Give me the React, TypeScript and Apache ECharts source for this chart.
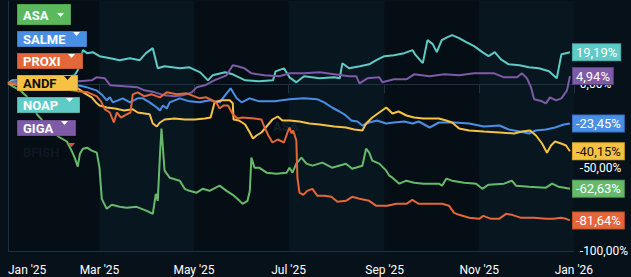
import React, { useEffect, useRef } from 'react';
import * as echarts from 'echarts';

const DAY = 86400000;
const T0 = Date.UTC(2025, 0, 1);

const MONTHS = ['Jan', 'Feb', 'Mar', 'Apr', 'May', 'Jun', 'Jul', 'Aug', 'Sep', 'Oct', 'Nov', 'Dec'];
const X_TICKS = ['2025-01-01', '2025-03-01', '2025-05-01', '2025-07-01', '2025-09-01', '2025-11-01', '2026-01-01'];
const Y_MIN = -100;
const Y_MAX = 50;
const Y_STEP = 50;

// [day offset from 2025-01-01, % change]
const ASA: [number, number][] = [
  [0, 0.6], [3.2, -1.2], [7.7, -3.6], [12, -7.2], [16, -13.3], [18.7, -18], [24, -23.5], [29, -28.9],
  [33.5, -31.9], [38, -34.3], [41, -39.8], [43, -44], [45, -49.4], [46.4, -41.6], [48.3, -38.6], [51, -38],
  [54, -39.8], [57.3, -41], [59, -50], [60.5, -68.7], [63.7, -74.7], [67, -72.3], [72, -73.5], [76.6, -74.1],
  [83, -73.5], [89.5, -75.9], [93.4, -77.7], [95.4, -65.7], [96.6, -69.9], [98, -42.8], [99, -26.5], [101, -51.8],
  [104.3, -56], [110.8, -57.8], [114, -62.7], [117, -63.9], [121.7, -65], [125.6, -62.7], [130, -63.9], [136.5, -60.8],
  [141, -63.9], [145, -66.3], [149.4, -69.9], [151.3, -71.7], [154.5, -69.9], [156, -63.9], [157, -44], [159, -50],
  [162, -50], [166.8, -53], [173, -53.6], [179.7, -53], [181.6, -50], [183.5, -53], [186, -47.6], [189.3, -44],
  [192.5, -47.6], [196.4, -48.8], [202.8, -47], [209, -50], [218, -47.6], [222, -50.6], [228.6, -48.8], [231, -38.6],
  [233, -41], [235, -45.8], [239.5, -47.6], [244, -51.8], [246, -54.8], [248, -56], [252.4, -59.6], [257, -57.8],
  [262, -59], [268, -59.6], [278, -59.6], [280, -60.8], [282.7, -56.6], [286.5, -57.8], [294.3, -59], [302, -59.6],
  [306, -62.7], [310, -60.2], [320, -59.6], [325, -57.8], [327.7, -60.8], [336, -61.4], [347, -62], [351, -59.6],
  [355, -61.4], [359, -62], [362.5, -62.63],
];

const SALME: [number, number][] = [
  [0, 0.6], [7.7, 1.2], [20.6, 0.6], [33.5, 0], [45, -0.6], [51, -1.8], [57, -3.6], [61, -6.6],
  [63.7, -9.6], [65.7, -7.8], [67.6, -10.8], [71, -9.6], [74, -8.4], [78.6, -10.8], [83.7, -8.4], [87, -8.4],
  [91.4, -10.8], [96, -13.9], [98, -15.7], [100, -12.7], [102.4, -14.5], [104.3, -10.8], [110.8, -8.4], [117, -10.2],
  [123.6, -10.8], [130, -9.6], [136.5, -10.8], [139, -7.8], [143.6, -2.4], [147.5, -8.4], [150.7, -10.8], [155.8, -8.4],
  [162, -10.2], [172, -10.2], [181.6, -9], [191, -8.4], [199.6, -9], [204, -10.8], [209, -13.9], [213.8, -16.3],
  [217, -18], [221.5, -21.7], [225.4, -22.3], [228.6, -24.7], [233, -22.9], [238, -21.7], [244, -23.5], [249, -22.9],
  [255.6, -22.3], [261, -23.5], [265, -22.3], [272, -25.9], [278, -22.9], [288, -22.9], [297.5, -23.5], [307, -25.3],
  [317, -24.7], [323, -27.1], [330, -28.3], [336, -29.5], [340.5, -27.7], [347, -27.1], [353, -25.9], [358.5, -24.1],
  [362.5, -23.45],
];

const PROXI: [number, number][] = [
  [0, 0.6], [7.7, 0], [20.6, -1.2], [33.5, -2.4], [45, -4.2], [51.5, -4.8], [57.3, -7.2], [60, -10.2],
  [62.5, -15], [65.7, -16.9], [68.3, -22.9], [70.2, -16.9], [72.8, -19.9], [76.6, -18], [79, -16.9], [80.5, -6],
  [83.7, -4.8], [88, -7.2], [92.7, -6], [98, -7.8], [102.4, -4.8], [108.8, -6], [115.3, -5.4], [120.4, -7.2],
  [123.6, -8.4], [128, -7.8], [132, -9.6], [134.6, -11.4], [136.5, -14.5], [139, -12.7], [142, -12.7], [145, -18],
  [148, -20.5], [151.3, -19.9], [159, -20.5], [163.5, -21.1], [165.5, -25.9], [168, -30.7], [170.6, -34.9], [174, -33.1],
  [178, -34.9], [180.3, -28.9], [181.6, -25.9], [183, -29.5], [184, -27.7], [186, -33.7], [186.7, -56], [188, -65],
  [190.5, -66.3], [193, -63.9], [196.4, -62.7], [199.6, -66.9], [204, -66.9], [208.6, -67.5], [212.5, -70.5], [218, -69.9],
  [222, -67.5], [226.7, -68.7], [233, -69.9], [237.6, -72.9], [244.7, -72.9], [250.5, -71.7], [257, -71.7], [260.8, -69.3],
  [265, -71.7], [272, -71.7], [280, -71.7], [284.6, -72.9], [287.8, -77.1], [291, -78.3], [297.5, -80.1], [304, -80.7],
  [306.6, -78.9], [311.7, -80.7], [316.8, -80.7], [321.3, -77.7], [325.2, -78.3], [331, -80.1], [339.4, -80.1], [347, -80.7],
  [352, -80.7], [356.8, -80.1], [360, -80.7], [362.5, -81.64],
];

const ANDF: [number, number][] = [
  [0, 0.6], [7.7, -0.6], [20.6, -1.2], [33.5, -1.8], [45, -2.4], [49.6, -5.4], [54, -7.8], [57.3, -11.4],
  [59, -12.7], [63.7, -13.9], [69, -14.5], [75, -15.7], [80.5, -15], [83.7, -16.9], [88, -17.5], [91.4, -18],
  [93.4, -23.5], [96, -25.3], [98, -22.9], [101, -21.1], [107.5, -20.5], [114, -21.1], [120.4, -21.1], [127, -20.5],
  [130.7, -19.9], [133.3, -10.8], [138, -9.6], [143, -9.6], [145, -11.4], [145.5, -21.1], [149, -21.7], [153, -24.1],
  [156, -28.9], [158, -32.5], [160.3, -30.7], [163.5, -28.9], [166.8, -25.3], [170.6, -21.1], [174, -19.3], [177, -21.7],
  [181.6, -21.7], [188, -22.3], [194.5, -23.5], [201, -24.1], [210.5, -25.3], [218, -25.9], [223.4, -27.1], [228.6, -27.7],
  [231, -23.5], [235, -19.9], [239.5, -16.9], [244, -13.9], [248, -17.5], [252, -16.3], [257, -18.7], [262, -19.9],
  [268, -20.5], [278, -20.5], [282.7, -21.7], [286.5, -22.9], [291, -26.5], [297.5, -27.7], [307, -28.3], [317, -28.9],
  [326.5, -29.5], [331.6, -28.3], [336.8, -27.7], [340.6, -30.7], [344.5, -35.5], [347.7, -41], [350.3, -36.7], [352.9, -34.3],
  [356.8, -35.5], [360, -36.7], [362.5, -40.15],
];

const NOAP: [number, number][] = [
  [0, 0.6], [2.6, 2.4], [20.6, 2.4], [33.5, 3.6], [43, 5.4], [45.7, 9.6], [48.3, 20.5], [51, 18.7],
  [54.7, 19.3], [59, 16.9], [66, 15.7], [72, 14.5], [78.6, 15.7], [85, 14.5], [89, 18.7], [93.4, 21.7],
  [96.6, 9.6], [101, 10.8], [111, 9.6], [117, 10.2], [124, 7.2], [129, 2.4], [132, 5.4], [140, 7.2],
  [145, 6], [153, 2.4], [162, 1.8], [171, 2.4], [172.6, 7.8], [178, 9.6], [181.6, 4.2], [186, 1.2],
  [191, 4.8], [201, 3.6], [210.5, 4.2], [214, 3.6], [215.7, 12.7], [220, 9.6], [227, 10.8], [233, 12],
  [237.6, 14.5], [242.8, 16.9], [249, 17.5], [255.6, 18.7], [261, 20.5], [263, 17.5], [267.6, 12.7], [270.6, 26.5],
  [274, 24.1], [276.6, 19.3], [279.8, 26.5], [283.5, 28.3], [286.5, 29.5], [291, 27.7], [295.6, 25.3], [300.7, 22.9],
  [306, 19.3], [310, 16.9], [314, 19.3], [318, 15], [323, 12], [330, 11.4], [336, 10.2], [342.5, 9.6],
  [349, 7.8], [354, 3.6], [357, 18], [360, 18.7], [362.5, 19.19],
];

const GIGA: [number, number][] = [
  [0, 0.6], [4.5, 1.8], [14, 2.4], [27, 2.4], [40, 1.8], [46, 1.8], [54, 2.4], [57, 4.2],
  [62.5, 3.6], [66, -0.6], [75, -1.2], [83.7, -1.8], [88, -3.6], [94.7, -4.8], [101, -6.6], [107.5, -7.2],
  [112.7, -6.6], [118.5, -4.8], [121.7, -1.8], [127, -0.6], [133, 2.4], [141, 5.4], [145, 11.4], [148, 10.8],
  [152.6, 9.6], [157, 6.6], [165.5, 5.4], [175, 4.8], [181.6, 6.6], [191, 6.6], [201, 7.2], [210.5, 6],
  [220, 4.8], [224.7, 4.8], [226.7, 0.6], [231.8, 3.6], [239.5, 4.2], [241.5, 1.2], [249, 3], [257, 3],
  [262, 6], [272, 4.8], [281.5, 6], [291, 5.4], [300.7, 6.6], [313.6, 6.6], [320, 4.2], [328.4, 4.2],
  [331.6, 6.6], [334.8, 3.6], [337.4, -1.8], [339.4, -9], [344.5, -10.2], [347, -11.4], [349.6, -7.8], [353.5, -9.6],
  [357, -8.4], [360.6, -3.6], [362.5, 4.94],
];

const SERIES = [
  { name: 'ASA', points: ASA, color: '#66bb6a', border: '#4f9a52', text: '#ffffff' },
  { name: 'SALME', points: SALME, color: '#4a8fe6', border: '#3571c2', text: '#ffffff' },
  { name: 'NOAP', points: NOAP, color: '#5fcbc6', border: '#46a9a4', text: '#ffffff' },
  { name: 'GIGA', points: GIGA, color: '#7d5ba6', border: '#5a3f80', text: '#ffffff' },
  { name: 'ANDF', points: ANDF, color: '#f5c244', border: '#d9a52a', text: '#111111' },
  { name: 'PROXI', points: PROXI, color: '#e3673a', border: '#c04f26', text: '#ffffff' },
];

const LEGEND = [
  { name: 'ASA', color: '#5cb85c', text: '#ffffff', tri: '#ffffff', x: 17, y: 4, w: 54, h: 21, tx: 57 },
  { name: 'SALME', color: '#4a8fe6', text: '#ffffff', tri: '#ffffff', x: 17, y: 31, w: 70, h: 16, tx: 73 },
  { name: 'PROXI', color: '#e3673a', text: '#ffffff', tri: '#ffffff', x: 17, y: 53, w: 66, h: 16, tx: 68 },
  { name: 'ANDF', color: '#f5c244', text: '#111111', tri: '#111111', x: 17, y: 75, w: 61, h: 16, tx: 64 },
  { name: 'NOAP', color: '#5fcbc6', text: '#ffffff', tri: '#ffffff', x: 17, y: 97, w: 63, h: 16, tx: 66 },
  { name: 'GIGA', color: '#7d5ba6', text: '#ffffff', tri: '#ffffff', x: 17, y: 120, w: 59, h: 16, tx: 61 },
];

const fmtPct = (v: number) => v.toFixed(2).replace('.', ',') + '%';
const dayOf = (iso: string) => (Date.parse(iso + 'T00:00:00Z') - T0) / DAY;

export default function App() {
  const ref = useRef<HTMLDivElement>(null);

  useEffect(() => {
    document.body.style.margin = '0';
    if (!ref.current) return;
    const chart = echarts.init(ref.current, null, { renderer: 'svg' });

    const xTickDays = X_TICKS.map(dayOf);

    const series = SERIES.map((s) => ({
      type: 'line',
      name: s.name,
      data: s.points,
      showSymbol: false,
      symbol: 'none',
      silent: true,
      lineStyle: { width: 2, color: s.color },
      itemStyle: { color: s.color },
      emphasis: { disabled: true },
      endLabel: {
        show: true,
        formatter: (p: any) => fmtPct(p.value[1]),
        backgroundColor: s.color,
        borderColor: s.border,
        borderWidth: 1,
        color: s.text,
        fontFamily: 'Roboto',
        fontSize: 13,
        padding: [2, 3, 1, 3],
        distance: 3,
      },
    }));

    const graphics: any[] = [];
    LEGEND.forEach((l) => {
      graphics.push({
        type: 'rect',
        shape: { x: l.x, y: l.y, width: l.w, height: l.h },
        style: { fill: l.color, stroke: 'rgba(0,0,0,0.25)', lineWidth: 1 },
        z: 100,
      });
      graphics.push({
        type: 'text',
        x: l.x + 6,
        y: l.y + l.h / 2 + 0.5,
        style: {
          text: l.name,
          fill: l.text,
          font: 'bold 13px Roboto',
          verticalAlign: 'middle',
          align: 'left',
        },
        z: 101,
      });
      const ty = l.name === 'ASA' ? l.y + 9 : l.y + 1;
      graphics.push({
        type: 'polygon',
        shape: { points: [[l.tx, ty], [l.tx + 7, ty], [l.tx + 3.5, ty + 4]] },
        style: { fill: l.tri },
        z: 101,
      });
    });
    graphics.push({
      type: 'text',
      x: 23,
      y: 152,
      style: { text: 'BFISH', fill: '#0d1922', font: 'bold 13px Roboto', verticalAlign: 'middle' },
      z: 101,
    });
    graphics.push({
      type: 'polygon',
      shape: { points: [[68, 143], [75, 143], [71.5, 147]] },
      style: { fill: '#e0504a' },
      z: 101,
    });
    graphics.push({
      type: 'text',
      x: 273,
      y: 126,
      style: { text: 'ASA', fill: '#13212c', font: 'bold 13px Roboto', verticalAlign: 'middle' },
      z: 1,
    });

    chart.setOption({
      animation: false,
      backgroundColor: '#06111a',
      textStyle: { fontFamily: 'Roboto' },
      grid: { left: 8, right: 56, top: 1, bottom: 26, show: false },
      xAxis: {
        type: 'value',
        min: xTickDays[0],
        max: xTickDays[xTickDays.length - 1],
        axisLine: { show: true, lineStyle: { color: '#1c3244', width: 1 } },
        axisTick: { show: true, length: 9, lineStyle: { color: '#1c3244' }, customValues: xTickDays },
        axisLabel: {
          customValues: xTickDays,
          color: '#ffffff',
          fontSize: 12,
          fontFamily: 'Roboto',
          margin: 13,
          alignMinLabel: 'left',
          formatter: (v: number) => {
            const d = new Date(T0 + Math.round(v) * DAY);
            return MONTHS[d.getUTCMonth()] + " '" + String(d.getUTCFullYear()).slice(2);
          },
        },
        splitLine: { show: false },
        splitArea: { show: true, areaStyle: { color: ['#050e15', '#081620'] } },
      },
      yAxis: {
        type: 'value',
        position: 'right',
        min: Y_MIN,
        max: Y_MAX,
        interval: Y_STEP,
        axisLine: { show: true, lineStyle: { color: '#1c3244' } },
        axisTick: { show: false },
        axisLabel: {
          color: '#ffffff',
          fontSize: 12,
          fontFamily: 'Roboto',
          margin: 6,
          formatter: (v: number) => (v === Y_MAX ? '' : fmtPct(v)),
        },
        splitLine: { show: true, lineStyle: { color: '#1a3245', width: 1 } },
      },
      series,
      graphic: graphics,
    });

    return () => chart.dispose();
  }, []);

  return <div ref={ref} style={{ width: 631, height: 277 }} />;
}
